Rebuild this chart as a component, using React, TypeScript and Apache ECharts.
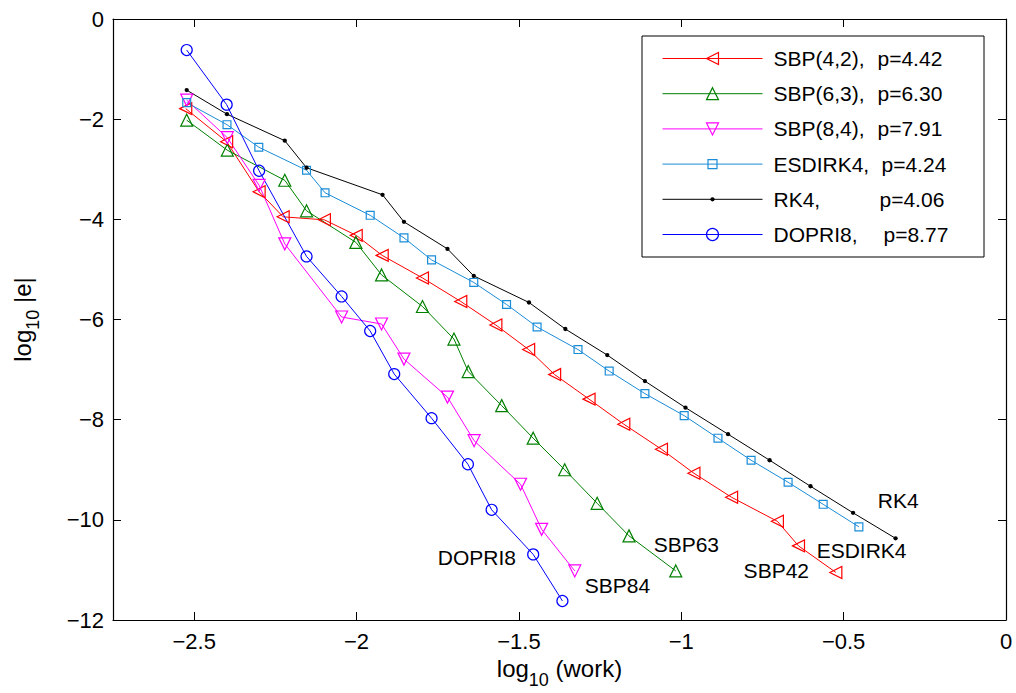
import React, { useEffect, useRef } from "react";
import * as echarts from "echarts";

// ---- data (log10 work, log10 error) ----
const sbp42X = [-2.526, -2.4, -2.3, -2.226, -2.099, -2.001, -1.921, -1.797, -1.679, -1.571, -1.47, -1.39, -1.284, -1.177, -1.061, -0.961, -0.845, -0.704, -0.639, -0.524];
const sbp42Y = [-1.79, -2.45, -3.45, -3.95, -4.01, -4.32, -4.72, -5.17, -5.64, -6.11, -6.6, -7.1, -7.59, -8.09, -8.59, -9.07, -9.55, -10.03, -10.52, -11.05];

const sbp63X = [-2.523, -2.398, -2.221, -2.154, -2.002, -1.923, -1.797, -1.7, -1.656, -1.553, -1.456, -1.359, -1.259, -1.161, -1.017];
const sbp63Y = [-2.02, -2.62, -3.22, -3.83, -4.46, -5.11, -5.74, -6.39, -7.04, -7.72, -8.37, -9.0, -9.67, -10.32, -11.02];

const sbp84X = [-2.523, -2.398, -2.3, -2.221, -2.046, -1.923, -1.854, -1.72, -1.638, -1.495, -1.43, -1.328];
const sbp84Y = [-1.62, -2.37, -3.32, -4.49, -5.95, -6.09, -6.79, -7.55, -8.42, -9.29, -10.19, -11.02];

const esdirkX = [-2.523, -2.399, -2.301, -2.154, -2.097, -1.958, -1.854, -1.769, -1.639, -1.538, -1.444, -1.318, -1.222, -1.112, -0.991, -0.887, -0.785, -0.671, -0.563, -0.453];
const esdirkY = [-1.67, -2.11, -2.56, -3.02, -3.47, -3.92, -4.37, -4.81, -5.26, -5.7, -6.15, -6.6, -7.03, -7.48, -7.92, -8.37, -8.81, -9.25, -9.69, -10.14];

const rk4X = [-2.523, -2.399, -2.221, -2.154, -1.92, -1.854, -1.72, -1.639, -1.469, -1.357, -1.228, -1.112, -0.987, -0.856, -0.728, -0.602, -0.471, -0.34];
const rk4Y = [-1.42, -1.9, -2.43, -2.97, -3.51, -4.05, -4.59, -5.13, -5.66, -6.19, -6.71, -7.23, -7.76, -8.29, -8.81, -9.33, -9.86, -10.37];

const dopriX = [-2.523, -2.4, -2.3, -2.154, -2.046, -1.958, -1.884, -1.769, -1.657, -1.584, -1.456, -1.366];
const dopriY = [-0.62, -1.71, -3.03, -4.74, -5.54, -6.23, -7.09, -7.97, -8.89, -9.8, -10.69, -11.62];

const seriesNames = [
  "SBP(4,2),  p=4.42",
  "SBP(6,3),  p=6.30",
  "SBP(8,4),  p=7.91",
  "ESDIRK4,  p=4.24",
  "RK4,  p=4.06",
  "DOPRI8,  p=8.77",
];

const labelTexts = ["RK4", "ESDIRK4", "SBP42", "SBP63", "SBP84", "DOPRI8"];
const labelX = [-0.395, -0.583, -0.808, -1.085, -1.297, -1.75];
const labelY = [-9.62, -10.62, -11.01, -10.49, -11.31, -10.76];

const xTicks = [-2.5, -2, -1.5, -1, -0.5, 0];

// ---- styles ----
const FONT = "'Liberation Sans', Arial, Helvetica, sans-serif";
const colors = ["#ff0000", "#008000", "#ff00ff", "#1a8cd8", "#000000", "#0000ff"];
const symbols = [
  "path://M0,5L10,0L10,10Z",
  "path://M5,0L10,10L0,10Z",
  "path://M0,0L10,0L5,10Z",
  "path://M0,0M10,10M1.25,1.25L8.75,1.25L8.75,8.75L1.25,8.75Z",
  "path://M0,0M10,10M3.2,5A1.8,1.8,0,1,1,6.8,5A1.8,1.8,0,1,1,3.2,5Z",
  "circle",
];
const symbolSizes = [12, 12, 12, 10.5, 12, 11];
const hollow = [true, true, true, true, false, true];
const pStartWidths = [104, 104, 104, 108, 106, 110];

const zip = (xs: number[], ys: number[]) => xs.map((x, i) => [x, ys[i]]);
const minus = (v: number) => String(v).replace("-", "\u2212");

export default function App() {
  const ref = useRef<HTMLDivElement>(null);

  useEffect(() => {
    if (!ref.current) return;
    const chart = echarts.init(ref.current, undefined, { renderer: "svg" });
    const allX = [sbp42X, sbp63X, sbp84X, esdirkX, rk4X, dopriX];
    const allY = [sbp42Y, sbp63Y, sbp84Y, esdirkY, rk4Y, dopriY];

    const lineSeries = seriesNames.map((name, i) => ({
      type: "line",
      name,
      xAxisIndex: 0,
      yAxisIndex: 0,
      data: zip(allX[i], allY[i]),
      symbol: symbols[i],
      symbolSize: symbolSizes[i],
      color: colors[i],
      lineStyle: { color: colors[i], width: 1 },
      itemStyle: hollow[i]
        ? { color: "transparent", borderColor: colors[i], borderWidth: 1.2 }
        : { color: colors[i], borderWidth: 0 },
      silent: true,
      z: 3,
    }));

    const rich: Record<string, any> = {
      b: { fontSize: 21, fontFamily: FONT, color: "#000", lineHeight: 22 },
    };
    pStartWidths.forEach((w, i) => {
      rich["a" + i] = {
        fontSize: 21,
        fontFamily: FONT,
        color: "#000",
        lineHeight: 22,
        width: w,
        padding: [0, 0, 0, 6],
      };
    });

    const axisCommon = {
      type: "value",
      axisLine: { show: true, onZero: false, lineStyle: { color: "#000", width: 1.2 } },
      splitLine: { show: false },
    };

    const nameRich = {
      n: { fontSize: 24, fontFamily: FONT, color: "#000", lineHeight: 40 },
      s: { fontSize: 18, fontFamily: FONT, color: "#000", lineHeight: 19, verticalAlign: "bottom" },
    };

    chart.setOption({
      animation: false,
      backgroundColor: "#fff",
      textStyle: { fontFamily: FONT },
      grid: {
        left: 113,
        right: 10,
        top: 19,
        bottom: 73,
        containLabel: false,
        outerBoundsMode: "none",
      },
      xAxis: [
        {
          ...axisCommon,
          position: "bottom",
          min: -2.75,
          max: 0,
          axisTick: { show: true, inside: true, length: 8, customValues: xTicks, lineStyle: { color: "#000" } },
          axisLabel: {
            show: true,
            customValues: xTicks,
            formatter: minus,
            fontSize: 22,
            fontFamily: FONT,
            color: "#000",
            margin: 10,
          },
          name: "{n|log}{s|10}{n| (work)}",
          nameLocation: "middle",
          nameGap: 27,
          nameTextStyle: { rich: nameRich },
        },
        {
          ...axisCommon,
          position: "top",
          min: -2.75,
          max: 0,
          axisTick: { show: true, inside: true, length: 8, customValues: xTicks, lineStyle: { color: "#000" } },
          axisLabel: { show: false },
        },
      ],
      yAxis: [
        {
          ...axisCommon,
          position: "left",
          min: -12,
          max: 0,
          interval: 2,
          axisTick: { show: true, inside: true, length: 8, lineStyle: { color: "#000" } },
          axisLabel: {
            show: true,
            formatter: minus,
            fontSize: 22,
            fontFamily: FONT,
            color: "#000",
            margin: 9,
          },
          name: "{n|log}{s|10}{n| |e|}",
          nameLocation: "middle",
          nameGap: 71,
          nameRotate: 90,
          nameTextStyle: { rich: nameRich },
        },
        {
          ...axisCommon,
          position: "right",
          min: -12,
          max: 0,
          interval: 2,
          axisTick: { show: true, inside: true, length: 8, lineStyle: { color: "#000" } },
          axisLabel: { show: false },
        },
      ],
      legend: {
        show: true,
        orient: "vertical",
        left: 662,
        top: 48,
        padding: 0,
        itemWidth: 100,
        itemHeight: 15,
        itemGap: 14.2,
        selectedMode: false,
        data: seriesNames.map((name, i) =>
          i === 4 ? { name, itemStyle: { borderWidth: 0 } } : { name }
        ),
        itemStyle: { borderWidth: 1.2 },
        lineStyle: { width: 1 },
        formatter: (name: string) => {
          const i = seriesNames.indexOf(name);
          const k = name.indexOf("p=");
          const left = name.slice(0, k).trim();
          const right = name.slice(k);
          return `{a${i}|${left}}{b|${right}}`;
        },
        textStyle: { rich },
        z: 6,
      },
      graphic: [
        {
          type: "rect",
          shape: { x: 642, y: 36, width: 342, height: 221 },
          style: { fill: "#fff", stroke: "#000", lineWidth: 1 },
          z: 5,
          silent: true,
        },
      ],
      series: [
        ...lineSeries,
        {
          type: "scatter",
          name: "labels",
          xAxisIndex: 0,
          yAxisIndex: 0,
          data: labelX.map((x, i) => [x, labelY[i], labelTexts[i]]),
          symbolSize: 0,
          itemStyle: { color: "transparent", opacity: 1 },
          silent: true,
          label: {
            show: true,
            position: "right",
            distance: 0,
            formatter: (p: any) => p.value[2],
            fontSize: 21,
            fontFamily: FONT,
            color: "#000",
            opacity: 1,
          },
          z: 4,
        },
      ],
    });

    return () => {
      chart.dispose();
    };
  }, []);

  return (
    <div
      ref={ref}
      style={{ position: "fixed", left: 0, top: 0, width: 1016, height: 693, background: "#fff" }}
    />
  );
}
